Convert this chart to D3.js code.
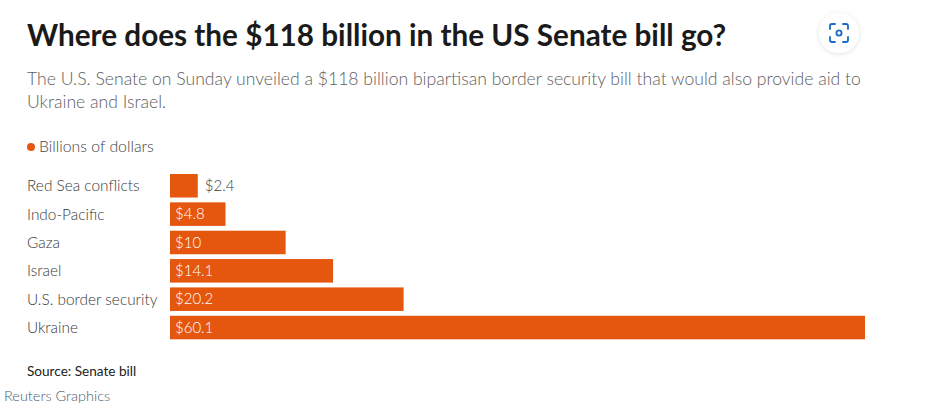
<!DOCTYPE html>
<html>
<head>
<meta charset="utf-8">
<script src="https://cdn.jsdelivr.net/npm/d3@7"></script>
<style>
  body { margin: 0; background: #fff; }
  svg text { font-family: Lato, "Open Sans", sans-serif; }
</style>
</head>
<body>
<svg id="chart" width="926" height="418"></svg>
<script>
// data (billions of dollars)
var categories = ["Red Sea conflicts", "Indo-Pacific", "Gaza", "Israel", "U.S. border security", "Ukraine"];
var values = [2.4, 4.8, 10, 14.1, 20.2, 60.1];
var valueLabels = ["$2.4", "$4.8", "$10", "$14.1", "$20.2", "$60.1"];

var titleText = "Where does the $118 billion in the US Senate bill go?";
var subtitleLines = [
  "The U.S. Senate on Sunday unveiled a $118 billion bipartisan border security bill that would also provide aid to",
  "Ukraine and Israel."
];
var legendText = "Billions of dollars";
var sourceText = "Source: Senate bill";
var creditText = "Reuters Graphics";

var orange = "#e5560f";

var svg = d3.select("#chart");

// title + subtitle
svg.append("text")
  .attr("x", 27).attr("y", 46)
  .attr("font-size", 29.7).attr("font-weight", 700)
  .attr("fill", "#1a1a1a")
  .text(titleText);

svg.selectAll(".sub")
  .data(subtitleLines)
  .enter().append("text")
  .attr("class", "sub")
  .attr("x", 27)
  .attr("y", (d, i) => 85 + i * 23)
  .attr("font-size", 17.6).attr("font-weight", 300)
  .attr("fill", "#5e5e5e")
  .text(d => d);

// legend
svg.append("circle").attr("cx", 31).attr("cy", 147).attr("r", 4).attr("fill", orange);
svg.append("text")
  .attr("x", 39).attr("y", 152)
  .attr("font-size", 15.8).attr("font-weight", 300)
  .attr("fill", "#444")
  .text(legendText);

// scales
var x = d3.scaleLinear().domain([0, d3.max(values)]).range([170, 865]);
var y = d3.scaleBand().domain(categories).range([174, 339.3]).paddingInner(0.17).paddingOuter(0);

var rows = svg.selectAll(".row")
  .data(categories)
  .enter().append("g")
  .attr("class", "row");

rows.append("rect")
  .attr("x", x(0))
  .attr("y", d => y(d))
  .attr("width", (d, i) => x(values[i]) - x(0))
  .attr("height", y.bandwidth())
  .attr("fill", orange);

rows.append("text")
  .attr("x", 27)
  .attr("y", d => y(d) + y.bandwidth() / 2)
  .attr("dy", "0.35em")
  .attr("font-size", 15.4).attr("font-weight", 300)
  .attr("fill", "#3a3a3a")
  .text(d => d);

// value labels: inside the bar, or just outside when the bar is too short
rows.append("text")
  .attr("x", (d, i) => values[i] < 4 ? x(values[i]) + 7 : x(0) + 5)
  .attr("y", d => y(d) + y.bandwidth() / 2)
  .attr("dy", "0.35em")
  .attr("font-size", 15).attr("font-weight", 300)
  .attr("fill", (d, i) => values[i] < 4 ? "#3a3a3a" : "#fff")
  .text((d, i) => valueLabels[i]);

// footer
svg.append("text")
  .attr("x", 27).attr("y", 376)
  .attr("font-size", 13.6).attr("font-weight", 400)
  .attr("fill", "#222")
  .text(sourceText);

svg.append("text")
  .attr("x", 4).attr("y", 401)
  .attr("font-size", 14.5).attr("font-weight", 300)
  .attr("fill", "#4b5b6e")
  .text(creditText);

// expand button top right
var defs = svg.append("defs");
var f = defs.append("filter").attr("id", "shadow").attr("x", "-50%").attr("y", "-50%").attr("width", "200%").attr("height", "200%");
f.append("feDropShadow").attr("dx", 0).attr("dy", 1).attr("stdDeviation", 2.5).attr("flood-color", "#000").attr("flood-opacity", 0.12);

var btn = svg.append("g").attr("transform", "translate(839,33)");
btn.append("circle").attr("r", 20).attr("fill", "#fff").attr("filter", "url(#shadow)");
var ic = btn.append("g").attr("fill", "none").attr("stroke", "#1a6bc4").attr("stroke-width", 1.8).attr("stroke-linecap", "round");
ic.append("path").attr("d", "M-9,-4 V-7 Q-9,-9 -7,-9 H-4");
ic.append("path").attr("d", "M4,-9 H7 Q9,-9 9,-7 V-4");
ic.append("path").attr("d", "M9,4 V7 Q9,9 7,9 H4");
ic.append("path").attr("d", "M-4,9 H-7 Q-9,9 -9,7 V4");
ic.append("circle").attr("r", 2.6);
</script>
</body>
</html>
